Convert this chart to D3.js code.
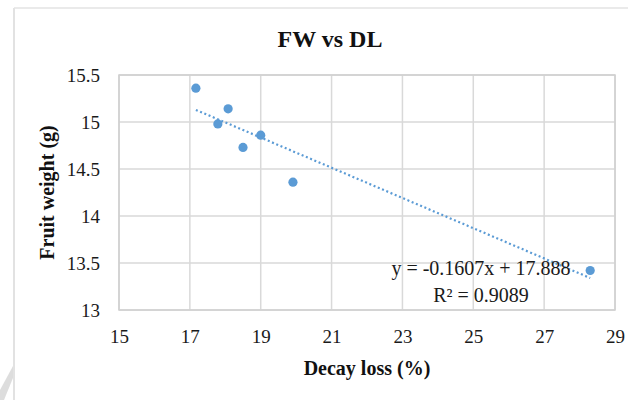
<!DOCTYPE html>
<html>
<head>
<meta charset="utf-8">
<script src="https://cdn.jsdelivr.net/npm/d3@7"></script>
<style>
html,body{margin:0;padding:0;background:#fff;}
svg{display:block;}
text{font-family:"Liberation Serif","Times New Roman",serif;}
</style>
</head>
<body>
<svg id="chart" width="628" height="400"></svg>
<script>
// Data
const decayLoss = [17.17, 18.08, 17.79, 18.5, 19.0, 19.91, 28.3];
const fruitWeight = [15.36, 15.14, 14.98, 14.73, 14.86, 14.36, 13.42];
const xTicks = [15, 17, 19, 21, 23, 25, 27, 29];
const yTicks = [13, 13.5, 14, 14.5, 15, 15.5];
const slope = -0.1607, intercept = 17.888;
const equationLines = ["y = -0.1607x + 17.888", "R\u00B2 = 0.9089"];
const title = "FW vs DL";
const xTitle = "Decay loss (%)";
const yTitle = "Fruit weight (g)";

const svg = d3.select("#chart");
const W = 628, H = 400;
const m = {left:119, right:615, top:75, bottom:310};

// outer chart frame (left & top edges visible)
svg.append("line").attr("x1",14).attr("x2",14).attr("y1",8).attr("y2",H)
  .attr("stroke","#d9d9d9").attr("stroke-width",1.5);
svg.append("line").attr("x1",14).attr("x2",W).attr("y1",8).attr("y2",8)
  .attr("stroke","#e3e3e3").attr("stroke-width",1.5);
// page fold shading at bottom-left
svg.append("polygon")
  .attr("points","13,366 13,378 4,400 0,400 0,390")
  .attr("fill","#d4d4d4").attr("opacity",0.8);

const x = d3.scaleLinear().domain([15,29]).range([m.left,m.right]);
const y = d3.scaleLinear().domain([13,15.5]).range([m.bottom,m.top]);

// gridlines
const grid = svg.append("g").attr("stroke","#d9d9d9").attr("stroke-width",1.5);
xTicks.forEach(t => grid.append("line").attr("x1",x(t)).attr("x2",x(t)).attr("y1",m.top).attr("y2",m.bottom));
yTicks.forEach(t => grid.append("line").attr("x1",m.left).attr("x2",m.right).attr("y1",y(t)).attr("y2",y(t)));
svg.append("rect").attr("x",m.left).attr("y",m.top).attr("width",m.right-m.left).attr("height",m.bottom-m.top)
  .attr("fill","none").attr("stroke","#d0d0d0").attr("stroke-width",1.5);

// axes
const xAxis = svg.append("g").attr("transform",`translate(0,${m.bottom})`)
  .call(d3.axisBottom(x).tickValues(xTicks).tickSize(0).tickPadding(20).tickFormat(d3.format("d")));
const yAxis = svg.append("g").attr("transform",`translate(${m.left},0)`)
  .call(d3.axisLeft(y).tickValues(yTicks).tickSize(0).tickPadding(19).tickFormat(d => String(d)));
[xAxis,yAxis].forEach(a => {
  a.select(".domain").remove();
  a.selectAll("text").attr("font-family","Liberation Serif, Times New Roman, serif")
    .attr("font-size",19).attr("fill","#1a1a1a");
});

// points
svg.append("g").selectAll("circle").data(decayLoss).join("circle")
  .attr("cx",d => x(d)).attr("cy",(d,i) => y(fruitWeight[i])).attr("r",4.6)
  .attr("fill","#5B9BD5");

// trendline
const xmin = d3.min(decayLoss), xmax = d3.max(decayLoss);
svg.append("line")
  .attr("x1",x(xmin)).attr("y1",y(slope*xmin+intercept))
  .attr("x2",x(xmax)).attr("y2",y(slope*xmax+intercept))
  .attr("stroke","#5B9BD5").attr("stroke-width",2.2)
  .attr("stroke-dasharray","2 2.6");

// equation
svg.append("g").selectAll("text").data(equationLines).join("text")
  .attr("x",481).attr("y",(d,i) => 275 + i*27)
  .attr("text-anchor","middle").attr("font-size",20).attr("fill","#1a1a1a")
  .text(d => d);

// titles
svg.append("text").attr("x",330).attr("y",47).attr("text-anchor","middle")
  .attr("font-size",24).attr("font-weight","bold").attr("fill","#111").text(title);
svg.append("text").attr("x",(m.left+m.right)/2).attr("y",375).attr("text-anchor","middle")
  .attr("font-size",20).attr("font-weight","bold").attr("fill","#111").text(xTitle);
svg.append("text").attr("transform",`translate(54,${(m.top+m.bottom)/2}) rotate(-90)`)
  .attr("text-anchor","middle").attr("font-size",20).attr("font-weight","bold").attr("fill","#111").text(yTitle);
</script>
</body>
</html>
